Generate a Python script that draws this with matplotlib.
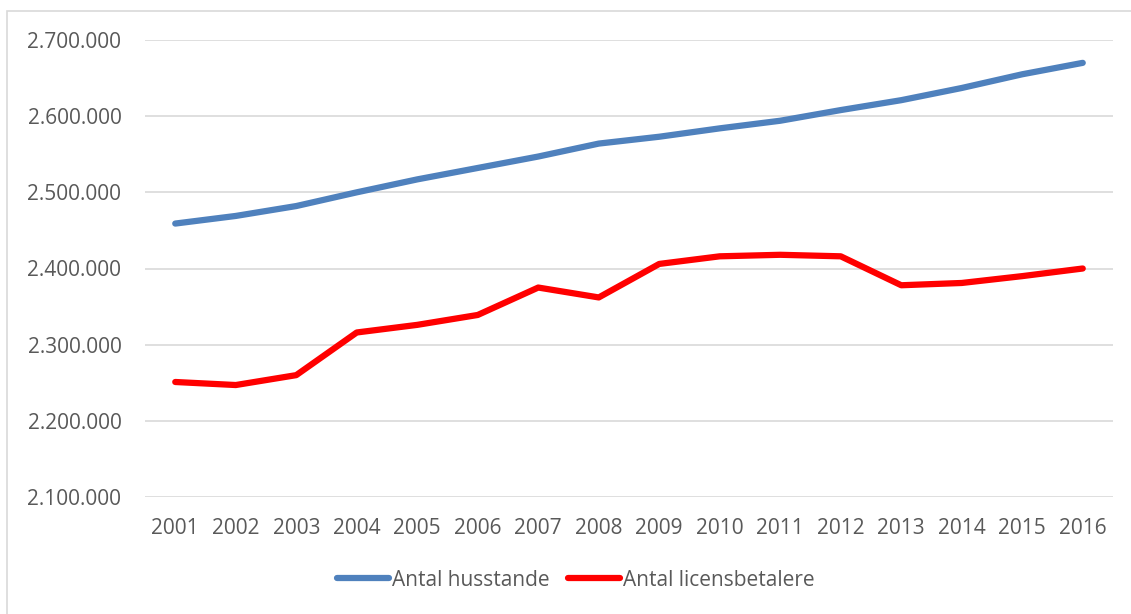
import matplotlib.pyplot as plt
import matplotlib.ticker as mticker
from matplotlib.patches import Rectangle

years = list(range(2001, 2017))
husstande = [2459000, 2469000, 2482000, 2500000, 2517000, 2532000, 2547000, 2564000,
             2573000, 2584000, 2594000, 2608000, 2621000, 2637000, 2655000, 2670000]
licensbetalere = [2251000, 2247000, 2260000, 2316000, 2326000, 2339000, 2375000, 2362000,
                  2406000, 2416000, 2418000, 2416000, 2378000, 2381000, 2390000, 2400000]

plt.rcParams['font.family'] = ['Open Sans', 'DejaVu Sans']
txt = '#595959'

fig = plt.figure(figsize=(11.31, 6.14), dpi=100, facecolor='w')
fig.patches.append(Rectangle((7/1131, -0.01), 1.02, 1 - 11/614 + 0.01, transform=fig.transFigure,
                             fill=False, edgecolor='#d9d9d9', lw=1.2))
ax = fig.add_axes([145/1131, 1 - 497/614, (1113 - 145)/1131, (497 - 40)/614])

ax.plot(years, husstande, color='#4f81bd', lw=4.5, solid_capstyle='round', label='Antal husstande')
ax.plot(years, licensbetalere, color='#ff0000', lw=4.5, solid_capstyle='round', label='Antal licensbetalere')

ax.set_ylim(2100000, 2700000)
ax.set_xlim(2000.5, 2016.5)
ax.set_yticks(range(2100000, 2700001, 100000))
ax.yaxis.set_major_formatter(mticker.FuncFormatter(lambda v, p: '{:,.0f}'.format(v).replace(',', '.')))
ax.set_xticks(years)
ax.grid(axis='y', color='#d9d9d9', lw=1.2)
ax.set_axisbelow(True)
for s in ax.spines.values():
    s.set_visible(False)
ax.tick_params(length=0, labelsize=15, colors=txt, pad=15)
ax.tick_params(axis='y', pad=17)

leg = ax.legend(loc='center', bbox_to_anchor=(0.445, -0.182), ncol=2, frameon=False, fontsize=15,
                handlelength=2.5, handletextpad=0.15, columnspacing=0.9)
for t in leg.get_texts():
    t.set_color(txt)

plt.savefig('out.png', dpi=100)
